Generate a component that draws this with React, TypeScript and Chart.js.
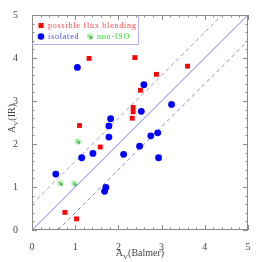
import React, { useEffect, useRef } from "react";
import { Chart, registerables } from "chart.js";
Chart.register(...registerables);

// possible flux blending (red squares)
const blendX = [1.32, 1.10, 2.38, 3.60, 2.88, 2.51, 2.34, 2.34, 2.32, 1.58, 0.76, 1.03];
const blendY = [3.99, 2.43, 4.01, 3.81, 3.62, 3.25, 2.85, 2.75, 2.60, 1.93, 0.41, 0.26];
// isolated (blue circles)
const isoX = [1.05, 2.59, 3.23, 2.53, 1.82, 1.78, 1.78, 2.75, 2.91, 2.12, 2.49, 2.93, 1.71, 1.68, 0.55, 1.15, 1.41];
const isoY = [3.78, 3.38, 2.92, 2.76, 2.59, 2.42, 2.16, 2.19, 2.26, 1.76, 1.95, 1.68, 0.99, 0.90, 1.30, 1.68, 1.78];
// non-ISO (green)
const nonIsoX = [1.06, 0.65, 0.98];
const nonIsoY = [2.06, 1.09, 1.08];
// reference lines: one-to-one and +/- offset
const axisMin = 0;
const axisMax = 5;
const lineOffset = 0.6;
const tickLabels = ["0", "1", "2", "3", "4", "5"];

const legendNames = ["possible flux blending", "isolated", "non-ISO"];

function pts(xs: number[], ys: number[]) {
  return xs.map((x, i) => ({ x, y: ys[i] }));
}

function makeGreenMarker() {
  const c = document.createElement("canvas");
  c.width = 8;
  c.height = 8;
  const g = c.getContext("2d")!;
  g.fillStyle = "#a8f4a8";
  g.beginPath();
  g.arc(4, 4, 3.1, 0, Math.PI * 2);
  g.fill();
  g.strokeStyle = "#2f5f2f";
  g.lineWidth = 0.9;
  g.beginPath();
  g.moveTo(3.3, 3.3);
  g.lineTo(5.6, 5.6);
  g.moveTo(4.4, 5.8);
  g.lineTo(5.8, 5.8);
  g.lineTo(5.8, 4.4);
  g.stroke();
  return c;
}

const SERIF = "'Liberation Serif', 'DejaVu Serif', serif";

export default function App() {
  const ref = useRef<HTMLCanvasElement>(null);
  useEffect(() => {
    document.body.style.margin = "0";
    const green = makeGreenMarker();
    const framePlugin = {
      id: "frame",
      afterDraw(chart: any) {
        const ctx = chart.ctx;
        const a = chart.chartArea;
        const xs = chart.scales.x;
        const ys = chart.scales.y;
        ctx.save();
        // frame
        ctx.strokeStyle = "#8a8a8a";
        ctx.lineWidth = 1;
        ctx.strokeRect(a.left + 0.5, a.top + 0.5, a.right - a.left - 1, a.bottom - a.top - 1);
        // ticks
        for (let i = 0; i <= 25; i++) {
          const v = axisMin + i * 0.2;
          const major = i % 5 === 0;
          const len = major ? 5 : 2.5;
          const px = Math.round(xs.getPixelForValue(v)) + 0.5;
          const py = Math.round(ys.getPixelForValue(v)) + 0.5;
          ctx.beginPath();
          ctx.moveTo(px, a.bottom);
          ctx.lineTo(px, a.bottom - len);
          ctx.moveTo(px, a.top);
          ctx.lineTo(px, a.top + len);
          ctx.moveTo(a.left, py);
          ctx.lineTo(a.left + len, py);
          ctx.moveTo(a.right, py);
          ctx.lineTo(a.right - len, py);
          ctx.stroke();
        }
        // axis titles
        ctx.fillStyle = "#444";
        const drawTitle = (rest: string) => {
          ctx.font = `10px ${SERIF}`;
          const wA = ctx.measureText("A").width;
          ctx.font = `7px ${SERIF}`;
          const wV = ctx.measureText("V").width;
          ctx.font = `10px ${SERIF}`;
          const wR = ctx.measureText(rest).width;
          const total = wA + wV + wR;
          const x0 = -total / 2;
          ctx.textBaseline = "alphabetic";
          ctx.textAlign = "left";
          ctx.font = `10px ${SERIF}`;
          ctx.fillText("A", x0, 0);
          ctx.font = `7px ${SERIF}`;
          ctx.fillText("V", x0 + wA, 2.5);
          ctx.font = `10px ${SERIF}`;
          ctx.fillText(rest, x0 + wA + wV, 0);
        };
        ctx.save();
        ctx.translate((a.left + a.right) / 2, 256);
        drawTitle("(Balmer)");
        ctx.restore();
        ctx.save();
        ctx.translate(15, (a.top + a.bottom) / 2 - 4);
        ctx.rotate(-Math.PI / 2);
        drawTitle("(IR)");
        ctx.restore();
        // legend
        ctx.strokeStyle = "#b4b4f6";
        ctx.lineWidth = 1;
        ctx.beginPath();
        ctx.moveTo(a.left, a.top + 29.5);
        ctx.lineTo(a.left + 106.5, a.top + 29.5);
        ctx.lineTo(a.left + 106.5, a.top);
        ctx.stroke();
        ctx.font = `8px ${SERIF}`;
        (ctx as any).letterSpacing = "0.8px";
        ctx.textBaseline = "middle";
        ctx.textAlign = "left";
        const lx = a.left + 9;
        const ly1 = a.top + 10.5;
        const ly2 = a.top + 21.5;
        ctx.fillStyle = "#ff0000";
        ctx.fillRect(lx - 2.5, ly1 - 2.5, 5, 5);
        ctx.fillStyle = "#ff4a4a";
        ctx.fillText(legendNames[0], lx + 7, ly1);
        ctx.fillStyle = "#0000ff";
        ctx.beginPath();
        ctx.arc(lx, ly2, 3.3, 0, Math.PI * 2);
        ctx.fill();
        ctx.fillStyle = "#3a3aff";
        ctx.fillText(legendNames[1], lx + 7, ly2);
        ctx.drawImage(green, lx + 49 - 4, ly2 - 4);
        ctx.fillStyle = "#33dd33";
        ctx.fillText(legendNames[2], lx + 56, ly2);
        (ctx as any).letterSpacing = "0px";
        ctx.restore();
      },
    };

    const chart = new Chart(ref.current!, {
      type: "scatter",
      data: {
        datasets: [
          {
            label: legendNames[2],
            data: pts(nonIsoX, nonIsoY),
            pointStyle: green as any,
            pointRadius: 4,
          },
          {
            label: legendNames[1],
            data: pts(isoX, isoY),
            pointStyle: "circle",
            pointRadius: 3.4,
            backgroundColor: "#0000ff",
            borderColor: "#0000ff",
            borderWidth: 0,
          },
          {
            label: legendNames[0],
            data: pts(blendX, blendY),
            pointStyle: "rect",
            pointRadius: 3.4,
            backgroundColor: "#ff0000",
            borderColor: "#ff0000",
            borderWidth: 0,
          },
          {
            label: "1:1",
            data: [
              { x: axisMin, y: axisMin },
              { x: axisMax, y: axisMax },
            ],
            showLine: true,
            pointRadius: 0,
            borderColor: "#a9a9f4",
            borderWidth: 1.2,
          },
          {
            label: "upper",
            data: [
              { x: axisMin, y: axisMin + lineOffset },
              { x: axisMax - lineOffset, y: axisMax },
            ],
            showLine: true,
            pointRadius: 0,
            borderColor: "#9a9aea",
            borderWidth: 1,
            borderDash: [4, 3],
          },
          {
            label: "lower",
            data: [
              { x: axisMin + lineOffset, y: axisMin },
              { x: axisMax, y: axisMax - lineOffset },
            ],
            showLine: true,
            pointRadius: 0,
            borderColor: "#8a8ada",
            borderWidth: 1,
            borderDash: [4, 3],
          },
        ],
      },
      options: {
        animation: false,
        responsive: false,
        events: [],
        layout: { padding: { top: 15, right: 14, left: 0, bottom: 0 } },
        plugins: { legend: { display: false }, tooltip: { enabled: false } },
        scales: {
          x: {
            type: "linear",
            min: axisMin,
            max: axisMax,
            grid: { display: false },
            border: { display: false },
            ticks: {
              stepSize: 1,
              padding: 3,
              color: "#444",
              font: { family: SERIF, size: 10 },
              callback: (v: any) => tickLabels[Number(v)] ?? "",
            },
            afterFit: (s: any) => {
              s.height = 32;
            },
          },
          y: {
            type: "linear",
            min: axisMin,
            max: axisMax,
            grid: { display: false },
            border: { display: false },
            ticks: {
              stepSize: 1,
              padding: 6,
              color: "#444",
              font: { family: SERIF, size: 10 },
              callback: (v: any) => tickLabels[Number(v)] ?? "",
            },
            afterFit: (s: any) => {
              s.width = 32;
            },
          },
        },
      },
      plugins: [framePlugin],
    });
    return () => chart.destroy();
  }, []);
  return (
    <div style={{ position: "absolute", left: 0, top: 0, width: 262, height: 262, background: "#fff" }}>
      <canvas ref={ref} width={262} height={262} style={{ width: 262, height: 262 }} />
    </div>
  );
}
